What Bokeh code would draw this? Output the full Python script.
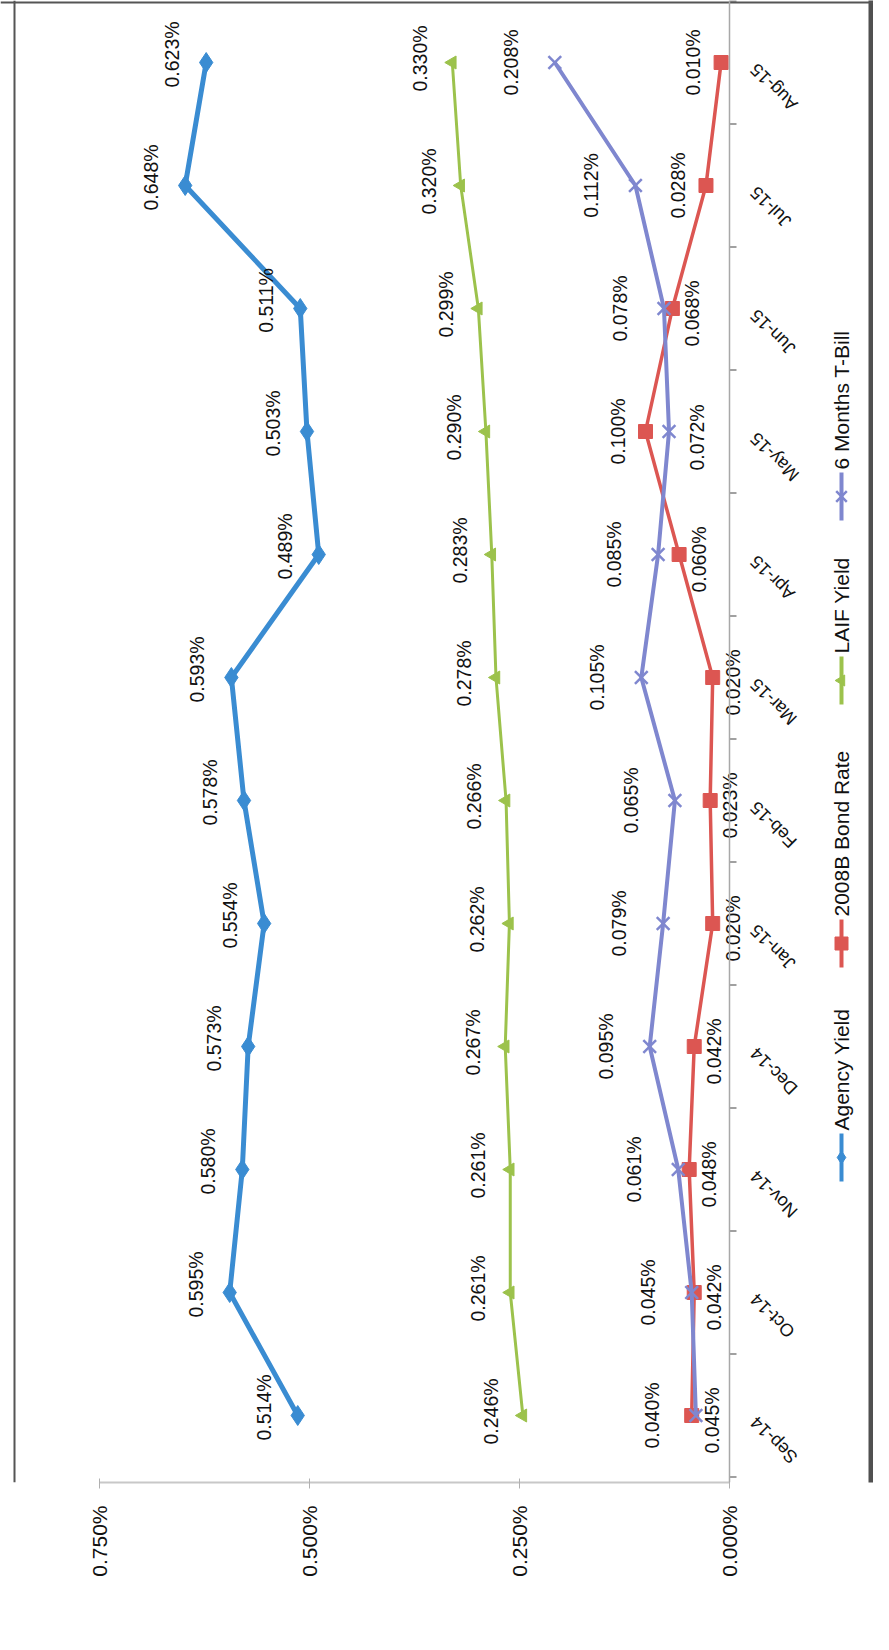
from math import pi
from bokeh.plotting import figure
from bokeh.models import Range1d, FixedTicker, PrintfTickFormatter, Span
from bokeh.embed import file_html
from bokeh.resources import INLINE
from bokeh.core.properties import value

# ---------------- data ----------------
months = ["Sep-14", "Oct-14", "Nov-14", "Dec-14", "Jan-15", "Feb-15",
          "Mar-15", "Apr-15", "May-15", "Jun-15", "Jul-15", "Aug-15"]
agency_yield = [0.514, 0.595, 0.580, 0.573, 0.554, 0.578, 0.593, 0.489, 0.503, 0.511, 0.648, 0.623]
bond_rate = [0.045, 0.042, 0.048, 0.042, 0.020, 0.023, 0.020, 0.060, 0.100, 0.068, 0.028, 0.010]
laif_yield = [0.246, 0.261, 0.261, 0.267, 0.262, 0.266, 0.278, 0.283, 0.290, 0.299, 0.320, 0.330]
tbill_6m = [0.040, 0.045, 0.061, 0.095, 0.079, 0.065, 0.105, 0.085, 0.072, 0.078, 0.112, 0.208]
value_ticks = [0.0, 0.25, 0.5, 0.75]
series_names = ["Agency Yield", "2008B Bond Rate", "LAIF Yield", "6 Months T-Bill"]

# ---------------- styles / layout ----------------
BLUE, RED, GREEN, PURPLE = "#3A8CD2", "#DC5652", "#9CC24C", "#7F87CF"
FONT = value("Liberation Sans")
W, H, M = 873, 1634, 8
X0, PX_PCT = 737, 840.0      # page x of value 0, px per 1 percentage point
Y0, PX_CAT = 1423, 123.0     # page y of first category, px per category
BOTTOM = 1490                # page y of value axis

def vx(v, px):   # move px to the right (value axis reversed)
    return v - px / PX_PCT

def vy(i, px):   # move px upward
    return i + px / PX_CAT

idx = list(range(len(months)))
y_lo, y_hi = (Y0 - BOTTOM) / PX_CAT, (Y0 - M) / PX_CAT

p = figure(width=W, height=H, output_backend="svg", toolbar_location=None,
           x_range=Range1d((X0 - M) / PX_PCT, (X0 - (M + W)) / PX_PCT),
           y_range=Range1d(y_lo, y_hi),
           y_axis_location=None, x_axis_location="below",
           min_border_left=0, min_border_right=0, min_border_top=0,
           min_border_bottom=H - (BOTTOM - M))
p.xgrid.visible = False
p.ygrid.visible = False
p.outline_line_color = None
p.background_fill_color = "white"
p.border_fill_color = "white"

# value axis
ax = p.xaxis[0]
ax.ticker = FixedTicker(ticks=value_ticks)
ax.formatter = PrintfTickFormatter(format="%.3f%%")
ax.bounds = (min(value_ticks), max(value_ticks))
ax.axis_line_color = "#c8c8c8"
ax.axis_line_width = 2
ax.major_tick_line_color = "#b0b0b0"
ax.major_tick_in = 4
ax.major_tick_out = 6
ax.minor_tick_line_color = None
ax.major_label_orientation = pi / 2
ax.major_label_standoff = 17
ax.major_label_text_font = "Liberation Sans"
ax.major_label_text_font_size = "21px"
ax.major_label_text_color = "#111111"

# scan frame artefacts (border lines, dark right edge)
p.add_layout(Span(location=(X0 - 22) / PX_PCT, dimension="height", line_color="#555555", line_width=2))
p.add_layout(Span(location=y_hi - 2 / PX_CAT, dimension="width", line_color="#555555", line_width=2))
p.quad(left=[(X0 - 876) / PX_PCT], right=[(X0 - 900) / PX_PCT], bottom=[y_lo - 1], top=[y_hi + 1],
       fill_color="#505050", line_color=None)

# category axis (at value 0)
p.add_layout(Span(location=0, dimension="height", line_color="#a8a8a8", line_width=1.5))
bounds = [i - 0.5 for i in range(len(months) + 1)]
p.segment(x0=[0] * len(bounds), y0=bounds, x1=[vx(0, 7)] * len(bounds), y1=bounds,
          line_color="#808080", line_width=1.5)
p.text(x=[vx(0, 24)] * len(months), y=[vy(i, -4) for i in idx], text=months,
       angle=3 * pi / 4, text_align="right", text_baseline="middle",
       text_font=FONT, text_font_size="18px", text_color="#111111")

# series
p.line(agency_yield, idx, color=BLUE, line_width=5)
p.scatter(agency_yield, idx, marker="diamond", size=20, color=BLUE)

p.line(laif_yield, idx, color=GREEN, line_width=3)
p.scatter(laif_yield, idx, marker="triangle", angle=pi / 2, size=13, color=GREEN)

p.line(bond_rate, idx, color=RED, line_width=3.5)
p.scatter(bond_rate, idx, marker="square", size=14, fill_color=RED, line_color=RED)

p.line(tbill_6m, idx, color=PURPLE, line_width=4)
p.scatter(tbill_6m, idx, marker="x", size=18, line_color=PURPLE, line_width=2.5)

def labels(vals, xs, ys):
    p.text(x=xs, y=ys, text=[f"{v:.3f}%" for v in vals], angle=pi / 2,
           text_align="center", text_baseline="middle", text_font=FONT,
           text_font_size="19.5px", text_color="#111111")

labels(agency_yield, [vx(v, -34) for v in agency_yield], [vy(i, 8) for i in idx])
labels(laif_yield, [vx(v, -32) for v in laif_yield], [vy(i, 4) for i in idx])

tbill_side = ["L"] * 8 + ["R"] + ["L"] * 3
bond_side = ["R"] * 8 + ["L", "R", "L", "L"]
labels(tbill_6m, [vx(v, -44 if s == "L" else 28) for v, s in zip(tbill_6m, tbill_side)],
       [vy(i, 0 if s == "L" else -6) for i, s in zip(idx, tbill_side)])
labels(bond_rate, [vx(v, -28 if s == "L" else 20) for v, s in zip(bond_rate, bond_side)],
       [vy(i, 0 if s == "L" else -5) for i, s in zip(idx, bond_side)])

# legend (vertical, reading bottom to top)
LEG_X = vx(0, 849 - X0)
legend_centers_px = [1165, 951, 688, 504]
colors = [BLUE, RED, GREEN, PURPLE]
markers = ["diamond", "square", "triangle", "x"]
for name, c, mk, cy in zip(series_names, colors, markers, legend_centers_px):
    yc = (Y0 - cy) / PX_CAT
    p.line([LEG_X, LEG_X], [vy(yc, -24), vy(yc, 24)], color=c, line_width=4)
    if mk == "x":
        p.scatter([LEG_X], [yc], marker=mk, size=15, line_color=c, line_width=2.5)
    elif mk == "triangle":
        p.scatter([LEG_X], [yc], marker=mk, angle=pi / 2, size=11, color=c)
    else:
        p.scatter([LEG_X], [yc], marker=mk, size=13, color=c)
    p.text(x=[LEG_X], y=[vy(yc, 27)], text=[name], angle=pi / 2, text_align="left",
           text_baseline="middle", text_font=FONT, text_font_size="21px", text_color="#111111")

open("out.html", "w").write(file_html(p, INLINE))
